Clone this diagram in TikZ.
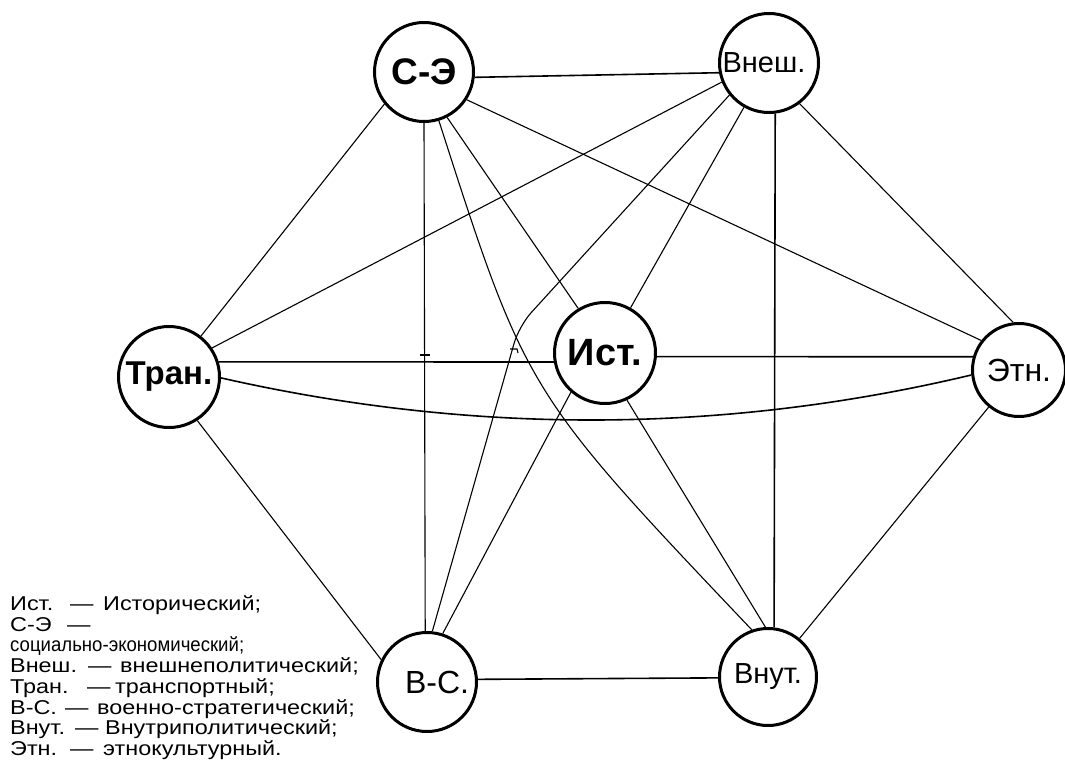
\documentclass[tikz,border=0pt]{standalone}
\usepackage{fontspec}
\setmainfont{Liberation Sans}
\newfontfamily\legfont[FakeStretch=1.17]{Liberation Sans}
\newfontfamily\legfontn[FakeStretch=0.93]{Liberation Sans}
\newcommand\legline[4]{\makebox[#1][l]{#2}—\hspace{#3}#4}
\begin{document}
\begin{tikzpicture}[x=1pt,y=-1pt,
  vert/.style={draw, circle, line width=3pt, inner sep=0pt, fill=white},
  conn/.style={line width=1.1pt},
  connb/.style={line width=1.6pt},
  leg/.style={anchor=base west, inner sep=0pt, font=\legfont\fontsize{20}{20}\selectfont}]
\fill[white] (0,0) rectangle (1065,760);
\useasboundingbox (0,0) rectangle (1065,760);

\node[vert, minimum size=99pt, font=\fontsize{37}{37}\selectfont\bfseries] (se) at (424,72) {С-Э};
\node[vert, minimum size=99pt, font=\fontsize{29}{29}\selectfont] (vn) at (769,63) {\hspace*{-10pt}Внеш.};
\node[vert, minimum size=101pt, font=\fontsize{33}{33}\selectfont\bfseries] (tr) at (169,377) {Тран.};
\node[vert, minimum size=101pt, font=\fontsize{38}{38}\selectfont\bfseries] (ist) at (605,353) {Ист.};
\node[vert, minimum size=93pt, font=\fontsize{32}{32}\selectfont] (etn) at (1019,370) {Этн.};
\node[vert, minimum size=99pt, font=\fontsize{32}{32}\selectfont] (vs) at (427,682) {\hspace*{20pt}В-С.};
\node[vert, minimum size=97pt, font=\fontsize{29}{29}\selectfont] (vt) at (768,677) {Внут.};

% connectors
\draw[connb] (se.-6) -- (vn.191);
\draw[conn] (se.219) -- (tr.52);
\draw[conn] (se.-90) -- (vs.92);
\draw[conn] (se.-63) -- (ist.121);
\draw[conn] (se.-73) .. controls (526,392) and (526,392) .. (vt.109);
\draw[conn] (se.-33) -- (etn.142);
\draw[conn] (vn.202) -- (tr.34);
\draw[conn, rounded corners=18pt] (vn.219) -- (519,326) -- (vs.84);
\draw[conn] (vn) -- (ist);
\draw[connb] (vn.-83) -- (vt.83);
\draw[conn] (vn.-53) -- (etn.97);
\draw[connb] (tr.17) -- (ist.190);
\draw[connb] (tr.-1) .. controls (473,435) and (723,434) .. (etn.186);
\draw[conn] (tr.-57) -- (vs.154);
\draw[connb] (ist.-4) -- (etn.164);
\draw[conn] (vs.72) -- (ist.229);
\draw[conn] (ist.-65) -- (vt.93);
\draw[connb] (vs.3) -- (vt.181);
\draw[conn] (vt) -- (etn);

% small stray marks
\coordinate (m1a) at (420,355); \coordinate (m1b) at (430,355);
\draw[conn] (m1a) -- (m1b);
\coordinate (m2a) at (510,349); \coordinate (m2b) at (517,349); \coordinate (m2c) at (518,353);
\draw[conn] (m2a) -- (m2b) -- (m2c);

% legend
\node[leg] (l1) at (10,610.5) {\legline{60pt}{Ист.}{9.6pt}{Исторический;}};
\node[leg] (l2) at (10,631.2) {\legline{57pt}{С-Э}{0pt}{}};
\node[leg, font=\legfontn\fontsize{20}{20}\selectfont] (l3) at (10,651.9) {социально-экономический;};
\node[leg] (l4) at (10,672.6) {\legline{78pt}{Внеш.}{8.6pt}{внешнеполитический;}};
\node[leg] (l5) at (10,693.3) {\legline{77pt}{Тран.}{4.6pt}{транспортный;}};
\node[leg] (l6) at (10,714.0) {\legline{55pt}{В-С.}{8.6pt}{военно-стратегический;}};
\node[leg] (l7) at (10,734.7) {\legline{65pt}{Внут.}{6.6pt}{Внутриполитический;}};
\node[leg] (l8) at (10,755.4) {\legline{60pt}{Этн.}{9.6pt}{этнокультурный.}};
\end{tikzpicture}
\end{document}
